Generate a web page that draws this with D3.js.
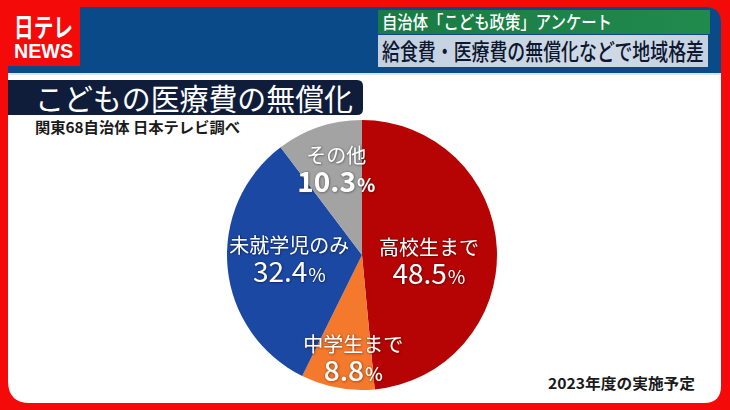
<!DOCTYPE html>
<html><head><meta charset="utf-8">
<script src="https://cdn.jsdelivr.net/npm/d3@7"></script>
<style>html,body{margin:0;padding:0;background:#fff;}svg{display:block;}</style>
</head><body>
<svg id="c" width="730" height="410"></svg>
<script>
// ---- data ----
const categories = ["高校生まで", "中学生まで", "未就学児のみ", "その他"];
const values = [48.5, 8.8, 32.4, 10.3];
const valueLabels = ["48.5", "8.8", "32.4", "10.3"];
// ---- styling / layout config ----
const colors = ["#b60303", "#f4792c", "#1b48a3", "#a3a3a3"];
const labelOffset = [[-14, 11], [6, 24], [8, -3], [0, -8]];
const shadowCol = ["#5a0000", "#a03800", "#0a2050", "#555555"];
const valueWeight = [400, 500, 400, 600];

const FONT = "'Noto Sans CJK JP', 'Noto Sans', sans-serif";
const svg = d3.select("#c");
const W = 730, H = 410;

const defs = svg.append("defs");
const f = defs.append("filter").attr("id", "sh").attr("x", "-20%").attr("y", "-20%").attr("width", "140%").attr("height", "140%");
f.append("feDropShadow").attr("dx", 0.5).attr("dy", 0.5).attr("stdDeviation", 1).attr("flood-color", "#000").attr("flood-opacity", 0.45);
const g1 = defs.append("linearGradient").attr("id", "grn").attr("x1", 0).attr("x2", 1).attr("y1", 0).attr("y2", 0);
g1.append("stop").attr("offset", 0).attr("stop-color", "#1a7a45");
g1.append("stop").attr("offset", 1).attr("stop-color", "#218a4d");
const g2 = defs.append("linearGradient").attr("id", "lb").attr("x1", 0).attr("x2", 1).attr("y1", 0).attr("y2", 0);
g2.append("stop").attr("offset", 0).attr("stop-color", "#c3d0e0");
g2.append("stop").attr("offset", 0.7).attr("stop-color", "#cfd9e6");
g2.append("stop").attr("offset", 1).attr("stop-color", "#c5d1e1");

// background red frame
svg.append("rect").attr("width", W).attr("height", H).attr("fill", "#f50a0a");

// blue header with rounded top-right corner
const bx0 = 8, by0 = 7, bx1 = 721, by1 = 75, br = 16;
svg.append("path")
  .attr("d", `M${bx0},${by0} H${bx1 - br} Q${bx1},${by0} ${bx1},${by0 + br} V${by1} H${bx0} Z`)
  .attr("fill", "#0b4a89");

// white panel with rounded bottom corners
const px0 = 8, py0 = 74, px1 = 721, py1 = 403, rl = 22, rr = 17;
svg.append("path")
  .attr("d", `M${px0},${py0} H${px1} V${py1 - rr} Q${px1},${py1} ${px1 - rr},${py1} H${px0 + rl} Q${px0},${py1} ${px0},${py1 - rl} Z`)
  .attr("fill", "#ffffff");
svg.append("rect").attr("x", px0).attr("y", 73).attr("width", px1 - px0).attr("height", 2).attr("fill", "#d8e6f2");

// logo
svg.append("rect").attr("x", 0).attr("y", 0).attr("width", 80).attr("height", 66).attr("fill", "#f50a0a");
svg.append("text").attr("x", 14).attr("y", 37).attr("fill", "#fff")
  .attr("font-family", FONT).attr("font-weight", 700).attr("font-size", 26)
  .attr("textLength", 59).attr("lengthAdjust", "spacingAndGlyphs").text("日テレ");
svg.append("text").attr("x", 14).attr("y", 58).attr("fill", "#fff")
  .attr("font-family", "'Liberation Sans', sans-serif").attr("font-weight", 700).attr("font-size", 21)
  .attr("textLength", 59).attr("lengthAdjust", "spacingAndGlyphs").text("NEWS");

// headline boxes
svg.append("rect").attr("x", 378).attr("y", 10).attr("width", 332).attr("height", 24).attr("fill", "url(#grn)");
svg.append("text").attr("x", 382).attr("y", 29).attr("fill", "#fff")
  .attr("font-family", FONT).attr("font-weight", 500).attr("font-size", 18)
  .attr("textLength", 230).attr("lengthAdjust", "spacingAndGlyphs").text("自治体「こども政策」アンケート");
svg.append("rect").attr("x", 378).attr("y", 35).attr("width", 330).attr("height", 32).attr("fill", "url(#lb)");
svg.append("text").attr("x", 382).attr("y", 60).attr("fill", "#0d1830")
  .attr("font-family", FONT).attr("font-weight", 500).attr("font-size", 23)
  .attr("textLength", 322).attr("lengthAdjust", "spacingAndGlyphs").text("給食費・医療費の無償化などで地域格差");

// title box
const tx0 = 8, ty0 = 80, tx1 = 363, ty1 = 115, tr = 6;
svg.append("path")
  .attr("d", `M${tx0},${ty0} H${tx1 - tr} Q${tx1},${ty0} ${tx1},${ty0 + tr} V${ty1 - tr} Q${tx1},${ty1} ${tx1 - tr},${ty1} H${tx0} Z`)
  .attr("fill", "#0f1c3a");
svg.append("text").attr("x", 35).attr("y", 110).attr("fill", "#fff")
  .attr("font-family", FONT).attr("font-weight", 400).attr("font-size", 30)
  .attr("textLength", 318).attr("lengthAdjust", "spacingAndGlyphs").text("こどもの医療費の無償化");
svg.append("text").attr("x", 35).attr("y", 133).attr("fill", "#1a1a1a")
  .attr("font-family", FONT).attr("font-weight", 700).attr("font-size", 15)
  .attr("textLength", 205).attr("lengthAdjust", "spacingAndGlyphs").text("関東68自治体 日本テレビ調べ");

// footer note
svg.append("text").attr("x", 695).attr("y", 389).attr("text-anchor", "end").attr("fill", "#1a1a1a")
  .attr("font-family", FONT).attr("font-weight", 700).attr("font-size", 15)
  .attr("textLength", 147).attr("lengthAdjust", "spacingAndGlyphs").text("2023年度の実施予定");

// pie
const cx = 362, cy = 255, R = 135;
const pie = d3.pie().sort(null).value(d => d).startAngle(0).endAngle(2 * Math.PI);
const arcs = pie(values);
const arc = d3.arc().innerRadius(0).outerRadius(R);
const labelArc = d3.arc().innerRadius(R * 0.6).outerRadius(R * 0.6);
const gp = svg.append("g").attr("transform", `translate(${cx},${cy})`);
gp.selectAll("path.slice").data(arcs).join("path").attr("class", "slice")
  .attr("d", arc).attr("fill", (d, i) => colors[i]);

const lg = gp.selectAll("g.lbl").data(arcs).join("g").attr("class", "lbl")
  .attr("transform", (d, i) => {
    const c = labelArc.centroid(d);
    return `translate(${c[0] + labelOffset[i][0]},${c[1] + labelOffset[i][1]})`;
  })
  .attr("filter", "url(#sh)");
lg.append("text").attr("text-anchor", "middle").attr("y", -7)
  .attr("fill", "#fff").attr("font-family", FONT).attr("font-weight", 400).attr("font-size", 20)
  .attr("stroke", (d, i) => shadowCol[i]).attr("stroke-width", 0.6).attr("stroke-opacity", 0.5).attr("paint-order", "stroke")
  .text((d, i) => categories[i]);
const vt = lg.append("text").attr("text-anchor", "middle").attr("y", 22)
  .attr("fill", "#fff").attr("font-family", FONT).attr("font-weight", (d, i) => valueWeight[i])
  .attr("stroke", (d, i) => shadowCol[i]).attr("stroke-width", 0.6).attr("stroke-opacity", 0.5).attr("paint-order", "stroke");
vt.append("tspan").attr("font-size", 28).text((d, i) => valueLabels[i]);
vt.append("tspan").attr("font-size", 19).attr("dx", 1).text("%");
</script>
</body></html>
